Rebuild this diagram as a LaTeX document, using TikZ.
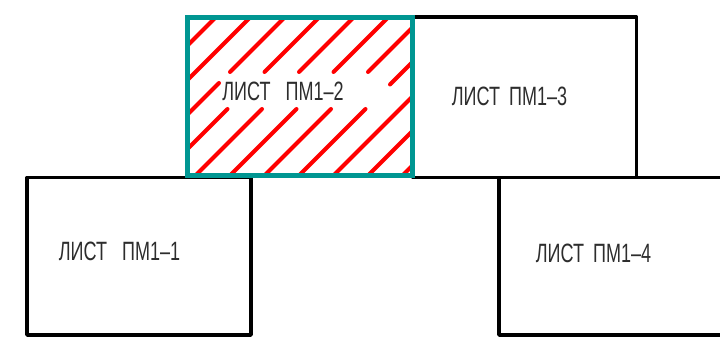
\documentclass[tikz,border=0pt]{standalone}
\usepackage{fontspec}
\setmainfont{Liberation Sans}[FakeStretch=0.68]
\definecolor{sheetteal}{RGB}{0,150,146}
\definecolor{hatchred}{RGB}{255,0,0}
\definecolor{labelgray}{RGB}{45,45,45}
\begin{document}
\begin{tikzpicture}[x=1pt,y=-1pt,
  sheet/.style={draw=black,line width=3.5pt,line join=round},
  selsheet/.style={draw=sheetteal,line width=4.5pt,line join=miter},
  hatchline/.style={draw=hatchred,line width=4pt,line cap=round},
  sheetlabel/.style={inner sep=0pt,text=labelgray,font=\fontsize{26.5}{30}\selectfont}]
\useasboundingbox (0,0) rectangle (720,350);
\clip (0,0) rectangle (720,350);
% black sheets
\draw[sheet] (27,177.5) rectangle (251,335);
\draw[sheet] (413,17) rectangle (636.5,177.5);
\coordinate (r4a) at (725,177.5);
\coordinate (r4b) at (499,177.5);
\coordinate (r4c) at (499,335);
\coordinate (r4d) at (725,335);
\draw[sheet] (r4a) -- (r4b) -- (r4c) -- (r4d);
% hatching of selected sheet
\foreach \c in {233,267.5,302,336.5,371,405.5,440,474.5,509,543.5,578} {
  \pgfmathsetmacro\sx{max(187.5,\c-175.5)}
  \pgfmathsetmacro\ex{min(412.5,\c-17.5)}
  \pgfmathtruncatemacro\cut{and(\c>291,\c<499)}
  \ifnum\cut=1
    \pgfmathsetmacro\gsx{max(219,\c-109)}
    \pgfmathsetmacro\gex{min(390,\c-72)}
    \draw[hatchline] (\sx,\c-\sx) -- (\gsx,\c-\gsx);
    \draw[hatchline] (\gex,\c-\gex) -- (\ex,\c-\ex);
  \else
    \draw[hatchline] (\sx,\c-\sx) -- (\ex,\c-\ex);
  \fi
}
% selected sheet
\draw[selsheet] (187.5,17.5) rectangle (412.5,175.5);
% labels
\node[sheetlabel] (l1) at (119.5,251) {ЛИСТ\hspace{15pt}ПМ1–1};
\node[sheetlabel] (l2) at (283,91) {ЛИСТ\hspace{15pt}ПМ1–2};
\node[sheetlabel] (l3) at (509.5,96) {ЛИСТ\hspace{9pt}ПМ1–3};
\node[sheetlabel] (l4) at (593.5,253) {ЛИСТ\hspace{9pt}ПМ1–4};
\end{tikzpicture}
\end{document}
